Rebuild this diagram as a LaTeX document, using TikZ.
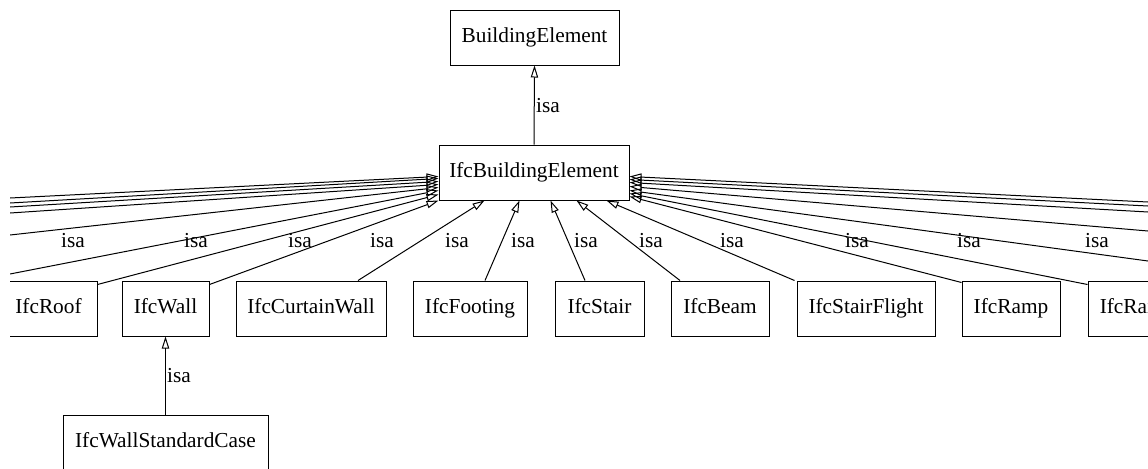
\documentclass[tikz,border=0pt]{standalone}
\usepackage{fontspec}
\setmainfont{Liberation Serif}
\usetikzlibrary{arrows.meta}
\tikzset{
  box/.style={draw, line width=0.75pt, minimum height=41.25pt, inner sep=0pt,
              text height=11pt, text depth=3.5pt,
              font=\fontsize{16}{18}\selectfont},
  isa/.style={line width=0.75pt, -{Triangle[open, length=9pt, width=5.5pt]}},
  lbl/.style={inner sep=0pt, font=\fontsize{16}{18}\selectfont},
}
\begin{document}
\begin{tikzpicture}[x=0.75pt, y=-0.75pt]
\useasboundingbox (0,0) rectangle (1148,468);
\begin{scope}
\clip (10,0) rectangle (1148,468);
% nodes
\node[box, minimum width=126.75pt] (be)  at (534.5,37.5) {BuildingElement};
\node[box, minimum width=142.5pt]  (ibe) at (534,172.5) {IfcBuildingElement};
\node[box, minimum width=72.75pt]  (roof) at (48.5,308.5) {IfcRoof};
\node[box, minimum width=65.25pt]  (wall) at (165.5,308.5) {IfcWall};
\node[box, minimum width=112.5pt]  (curtain) at (311,308.5) {IfcCurtainWall};
\node[box, minimum width=85.5pt]   (footing) at (470,308.5) {IfcFooting};
\node[box, minimum width=66.75pt]  (stair) at (599.5,308.5) {IfcStair};
\node[box, minimum width=73.5pt]   (beam) at (720,308.5) {IfcBeam};
\node[box, minimum width=103.5pt]  (flight) at (866,308.5) {IfcStairFlight};
\node[box, minimum width=73.5pt]   (ramp) at (1011,308.5) {IfcRamp};
\node[box, minimum width=82.5pt]   (rail) at (1143,308.5) {IfcRailing};
\node[box, minimum width=153.75pt] (wsc) at (165.5,442.5) {IfcWallStandardCase};
% free ends of edges whose children lie outside the view
\coordinate (l1) at (10,198);
\coordinate (l2) at (10,203);
\coordinate (l3) at (10,207);
\coordinate (l4) at (10,213);
\coordinate (l5) at (10,235);
\coordinate (l6) at (10,274);
\coordinate (r1) at (1148,261);
\coordinate (r2) at (1148,231);
\coordinate (r3) at (1148,212);
\coordinate (r4) at (1148,206);
\coordinate (r5) at (1148,202);
% edges
\draw[isa] (ibe.north) -- (be.south);
\draw[isa] (wsc.north) -- (wall.south);
\draw[isa] (l1) -- ([shift={(0,-24)}]ibe.south west);
\draw[isa] (l2) -- ([shift={(0,-22)}]ibe.south west);
\draw[isa] (l3) -- ([shift={(0,-19)}]ibe.south west);
\draw[isa] (l4) -- ([shift={(0,-16)}]ibe.south west);
\draw[isa] (l5) -- ([shift={(0,-13)}]ibe.south west);
\draw[isa] (l6) -- ([shift={(0,-10)}]ibe.south west);
\draw[isa] ([shift={(0,4)}]roof.north east) -- ([shift={(0,-6)}]ibe.south west);
\draw[isa] ([shift={(0,4)}]wall.north east) -- (ibe.south west);
\draw[isa] ([shift={(47,0)}]curtain.north) -- ([shift={(46,0)}]ibe.south west);
\draw[isa] ([shift={(15,0)}]footing.north) -- ([shift={(81,0)}]ibe.south west);
\draw[isa] ([shift={(-14.5,0)}]stair.north) -- ([shift={(112,0)}]ibe.south west);
\draw[isa] ([shift={(-40,0)}]beam.north) -- ([shift={(138,0)}]ibe.south west);
\draw[isa] ([shift={(-2,0)}]flight.north west) -- ([shift={(168,0)}]ibe.south west);
\draw[isa] ([shift={(0,2)}]ramp.north west) -- ([shift={(0,-4)}]ibe.south east);
\draw[isa] ([shift={(0,4)}]rail.north west) -- ([shift={(0,-7)}]ibe.south east);
\draw[isa] (r1) -- ([shift={(0,-10)}]ibe.south east);
\draw[isa] (r2) -- ([shift={(0,-14)}]ibe.south east);
\draw[isa] (r3) -- ([shift={(0,-18)}]ibe.south east);
\draw[isa] (r4) -- ([shift={(0,-21)}]ibe.south east);
\draw[isa] (r5) -- ([shift={(0,-24)}]ibe.south east);
% labels
\node[lbl] (t0)  at (548,106) {isa};
\node[lbl] (tw)  at (179,376) {isa};
\node[lbl] (t1)  at (73,241) {isa};
\node[lbl] (t2)  at (196,241) {isa};
\node[lbl] (t3)  at (300,241) {isa};
\node[lbl] (t4)  at (382,241) {isa};
\node[lbl] (t5)  at (457,241) {isa};
\node[lbl] (t6)  at (523,241) {isa};
\node[lbl] (t7)  at (586,241) {isa};
\node[lbl] (t8)  at (651,241) {isa};
\node[lbl] (t9)  at (732,241) {isa};
\node[lbl] (t10) at (857,241) {isa};
\node[lbl] (t11) at (969,241) {isa};
\node[lbl] (t12) at (1097,241) {isa};
\end{scope}
\end{tikzpicture}
\end{document}
